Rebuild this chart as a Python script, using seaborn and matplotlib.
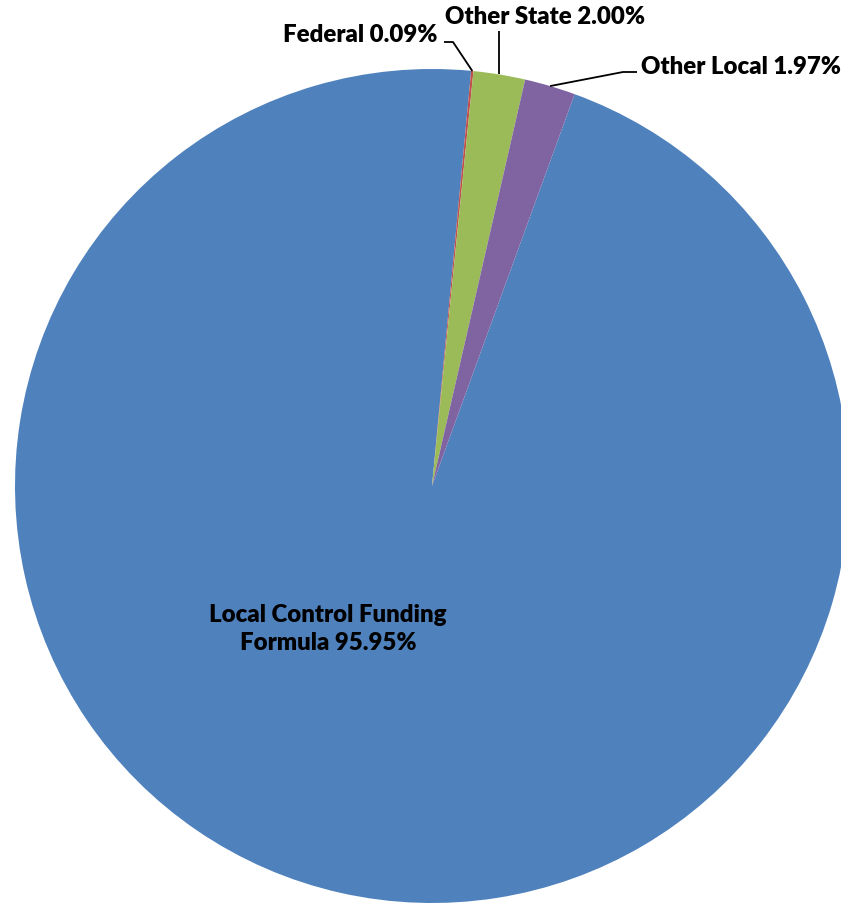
import numpy as np
import matplotlib
matplotlib.use("Agg")
import matplotlib.pyplot as plt
import seaborn as sns

# Revenue sources and their shares (%)
categories = ["Local Control Funding Formula", "Federal", "Other State", "Other Local"]
shares = [95.95, 0.09, 2.00, 1.97]
label_texts = ["Local Control Funding\nFormula 95.95%", "Federal 0.09%",
               "Other State 2.00%", "Other Local 1.97%"]
colors = ["#4F81BD", "#C0504D", "#9BBB59", "#8064A2"]

sns.set_theme(style="white")
plt.rcParams["font.family"] = ["Lato", "DejaVu Sans"]

W, H = 841, 904
fig = plt.figure(figsize=(W / 100, H / 100), dpi=100)
ax = fig.add_axes([0, 0, 1, 1])

cx, cy, r = 432, H - 487, 417
start = 70
wedges, _ = ax.pie(shares, colors=colors, startangle=start, counterclock=False,
                   center=(cx, cy), radius=r, frame=True,
                   wedgeprops=dict(linewidth=0))
ax.set_xlim(0, W)
ax.set_ylim(0, H)
ax.axis("off")


def edge_point(w):
    mid = np.deg2rad((w.theta1 + w.theta2) / 2)
    return cx + r * np.cos(mid), cy + r * np.sin(mid)


fs = 17.3
txt_kw = dict(fontsize=fs, fontweight="heavy", color="black")

# Main slice label inside the pie
ax.text(328, H - 629, label_texts[0], ha="center", va="center",
        linespacing=1.35, **txt_kw)

line_kw = dict(color="black", lw=1.3, solid_capstyle="butt")

# Federal
ex, ey = edge_point(wedges[1])
ax.text(438, H - 35, label_texts[1], ha="right", va="center", **txt_kw)
ax.plot([444, 453, ex], [H - 43, H - 43, ey], **line_kw)

# Other State
ex, ey = edge_point(wedges[2])
ax.text(545, H - 17, label_texts[2], ha="center", va="center", **txt_kw)
ax.plot([ex, ex], [H - 32, ey], **line_kw)

# Other Local
ex, ey = edge_point(wedges[3])
ax.text(641, H - 67, label_texts[3], ha="left", va="center", **txt_kw)
ax.plot([637, 623, ex], [H - 73, H - 73, ey], **line_kw)

fig.savefig("out.png", dpi=100, facecolor="white")
